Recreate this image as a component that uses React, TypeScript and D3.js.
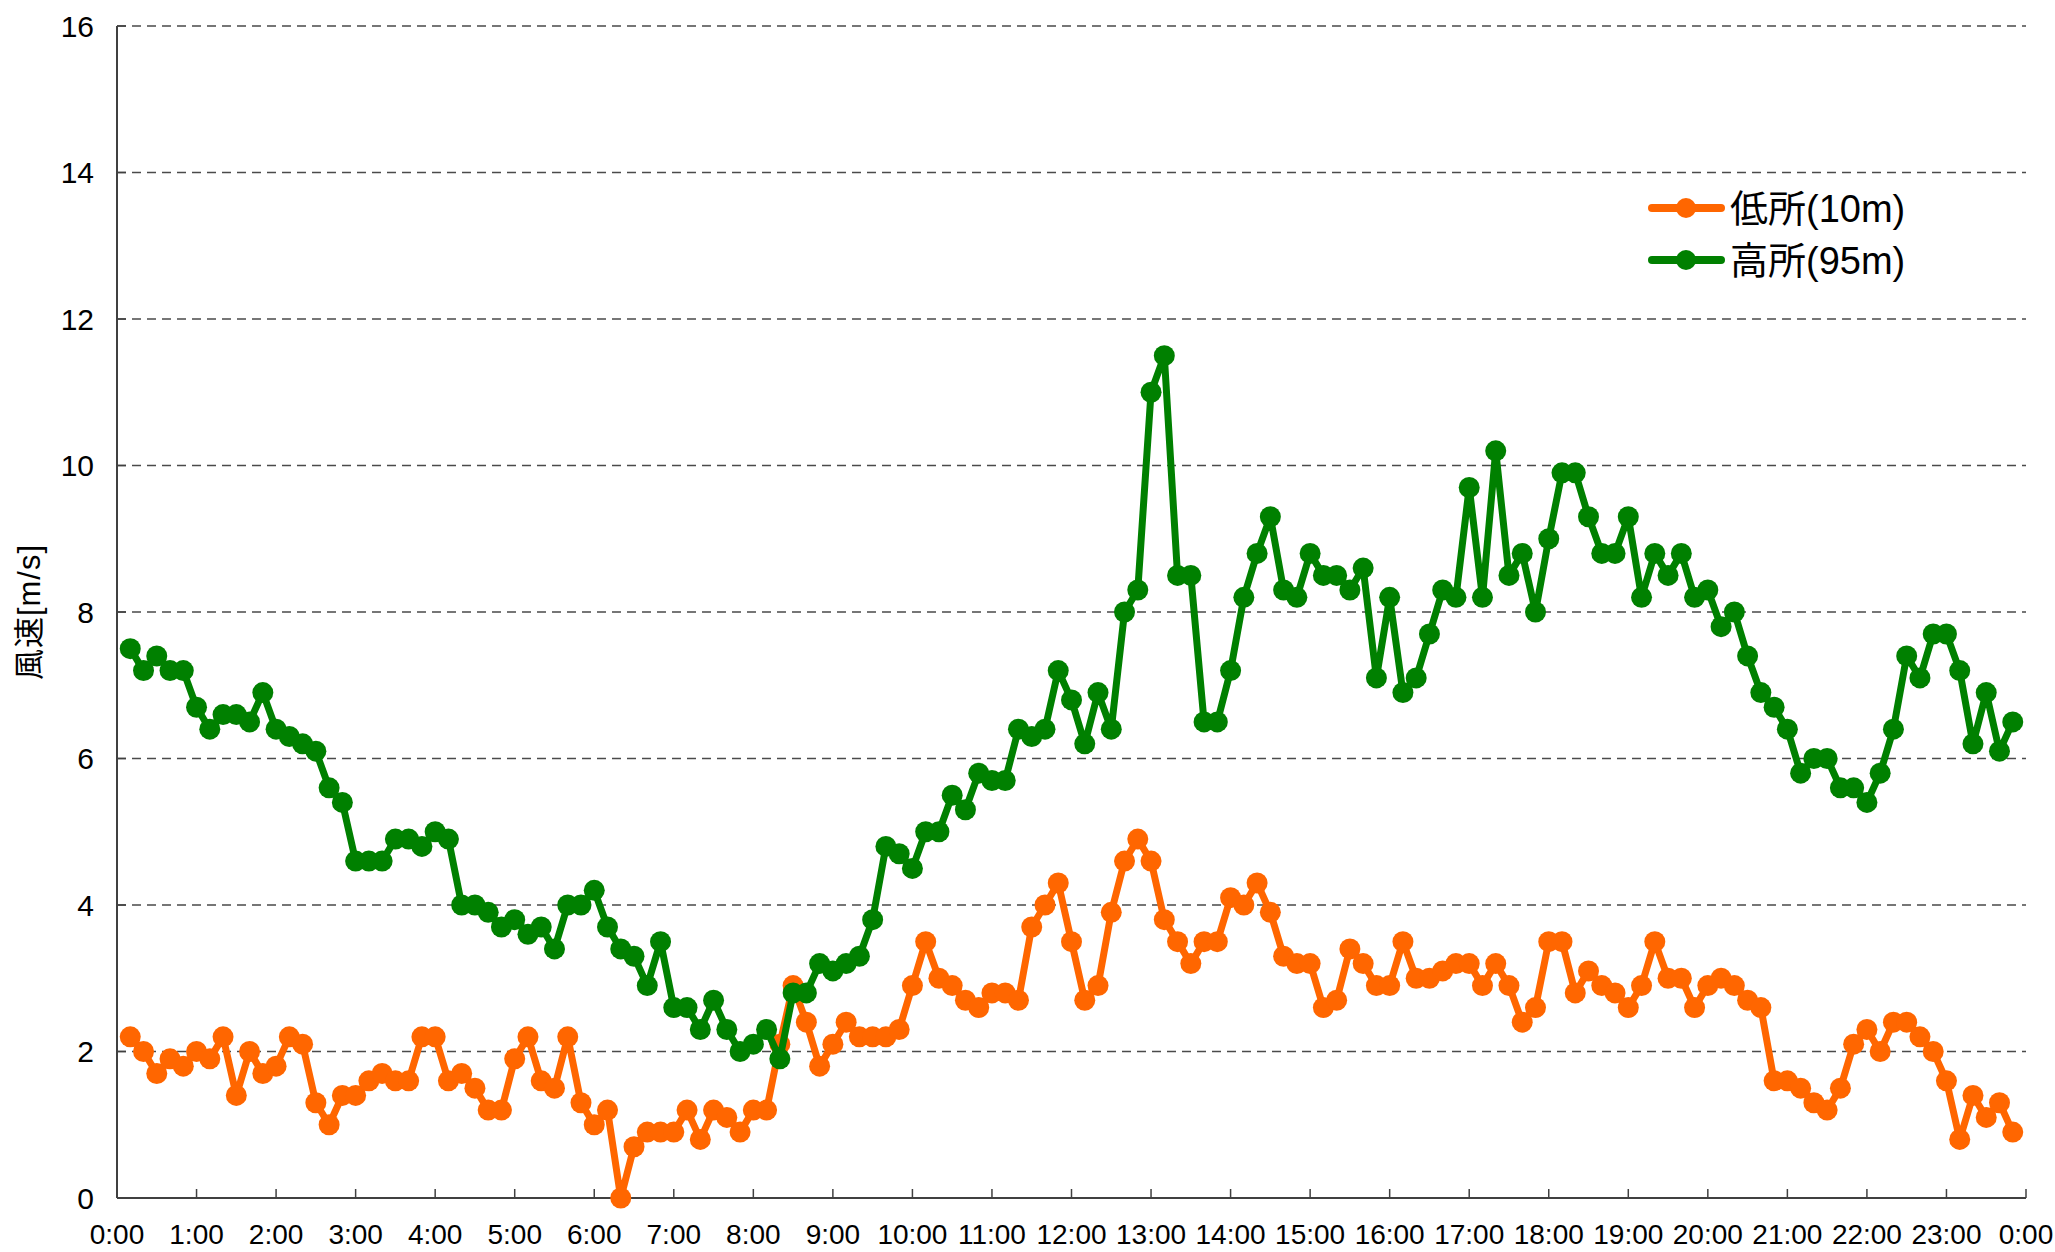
import React, { useEffect } from "react";
import * as d3 from "d3";

const hourLabels = ["0:00","1:00","2:00","3:00","4:00","5:00","6:00","7:00","8:00","9:00","10:00","11:00","12:00","13:00","14:00","15:00","16:00","17:00","18:00","19:00","20:00","21:00","22:00","23:00","0:00"];
const yTicks = [0, 2, 4, 6, 8, 10, 12, 14, 16];

// minutes from 0:00, every 10 minutes from 0:10 to 23:50
const times = d3.range(1, 144).map((i) => i * 10);

const low10m = [
  2.2,2.0,1.7,1.9,1.8,2.0,1.9,2.2,1.4,2.0,1.7,1.8,2.2,2.1,1.3,1.0,1.4,
  1.4,1.6,1.7,1.6,1.6,2.2,2.2,1.6,1.7,1.5,1.2,1.2,1.9,2.2,1.6,1.5,2.2,1.3,
  1.0,1.2,0.0,0.7,0.9,0.9,0.9,1.2,0.8,1.2,1.1,0.9,1.2,1.2,2.1,2.9,2.4,1.8,
  2.1,2.4,2.2,2.2,2.2,2.3,2.9,3.5,3.0,2.9,2.7,2.6,2.8,2.8,2.7,3.7,4.0,4.3,
  3.5,2.7,2.9,3.9,4.6,4.9,4.6,3.8,3.5,3.2,3.5,3.5,4.1,4.0,4.3,3.9,3.3,3.2,
  3.2,2.6,2.7,3.4,3.2,2.9,2.9,3.5,3.0,3.0,3.1,3.2,3.2,2.9,3.2,2.9,2.4,2.6,
  3.5,3.5,2.8,3.1,2.9,2.8,2.6,2.9,3.5,3.0,3.0,2.6,2.9,3.0,2.9,2.7,2.6,1.6,
  1.6,1.5,1.3,1.2,1.5,2.1,2.3,2.0,2.4,2.4,2.2,2.0,1.6,0.8,1.4,1.1,1.3,0.9
];

const high95m = [
  7.5,7.2,7.4,7.2,7.2,6.7,6.4,6.6,6.6,6.5,6.9,6.4,6.3,6.2,6.1,5.6,5.4,
  4.6,4.6,4.6,4.9,4.9,4.8,5.0,4.9,4.0,4.0,3.9,3.7,3.8,3.6,3.7,3.4,4.0,4.0,
  4.2,3.7,3.4,3.3,2.9,3.5,2.6,2.6,2.3,2.7,2.3,2.0,2.1,2.3,1.9,2.8,2.8,3.2,
  3.1,3.2,3.3,3.8,4.8,4.7,4.5,5.0,5.0,5.5,5.3,5.8,5.7,5.7,6.4,6.3,6.4,7.2,
  6.8,6.2,6.9,6.4,8.0,8.3,11.0,11.5,8.5,8.5,6.5,6.5,7.2,8.2,8.8,9.3,8.3,8.2,
  8.8,8.5,8.5,8.3,8.6,7.1,8.2,6.9,7.1,7.7,8.3,8.2,9.7,8.2,10.2,8.5,8.8,8.0,
  9.0,9.9,9.9,9.3,8.8,8.8,9.3,8.2,8.8,8.5,8.8,8.2,8.3,7.8,8.0,7.4,6.9,6.7,
  6.4,5.8,6.0,6.0,5.6,5.6,5.4,5.8,6.4,7.4,7.1,7.7,7.7,7.2,6.2,6.9,6.1,6.5
];

const seriesNames = ["低所(10m)", "高所(95m)"];
const seriesColors = ["#FF6600", "#008000"];
const yTitle = "風速[m/s]";

const W = 2055;
const H = 1252;
const M = { left: 117, right: 2026, top: 26, bottom: 1198 };
const FONT = "'Liberation Sans', Arial, 'Noto Sans CJK JP', sans-serif";

export default function App() {
  useEffect(() => {
    document.body.style.margin = "0";
    document.body.style.overflow = "hidden";
  }, []);

  const x = d3.scaleLinear().domain([0, 1440]).range([M.left, M.right]);
  const y = d3.scaleLinear().domain([0, 16]).range([M.bottom, M.top]);

  const line = d3
    .line<number>()
    .x((_, i) => x(times[i]))
    .y((d) => y(d));

  const series = [low10m, high95m];

  return (
    <svg
      width={W}
      height={H}
      style={{ position: "absolute", left: 0, top: 0, background: "#fff" }}
      fontFamily={FONT}
    >
      <rect x={0} y={0} width={W} height={H} fill="#fff" />
      {/* gridlines */}
      {yTicks.filter((t) => t > 0).map((t) => (
        <line
          key={"g" + t}
          x1={M.left}
          x2={M.right}
          y1={y(t)}
          y2={y(t)}
          stroke="#4a4a4a"
          strokeWidth={1.3}
          strokeDasharray="9 6"
        />
      ))}
      {/* y ticks */}
      {yTicks.map((t) => (
        <g key={"yt" + t}>
          <line x1={M.left} x2={M.left + 9} y1={y(t)} y2={y(t)} stroke="#404040" strokeWidth={1.5} />
          <text x={94} y={y(t)} dy="0.36em" textAnchor="end" fontSize={30} fill="#000">
            {t}
          </text>
        </g>
      ))}
      {/* x ticks */}
      {hourLabels.map((lab, i) => (
        <g key={"xt" + i}>
          <line x1={x(i * 60)} x2={x(i * 60)} y1={M.bottom} y2={M.bottom - 9} stroke="#404040" strokeWidth={1.5} />
          <text x={x(i * 60)} y={1244} textAnchor="middle" fontSize={28} fill="#000">
            {lab}
          </text>
        </g>
      ))}
      {/* axes */}
      <line x1={M.left} x2={M.left} y1={M.top} y2={M.bottom} stroke="#404040" strokeWidth={2} />
      <line x1={M.left} x2={M.right} y1={M.bottom} y2={M.bottom} stroke="#404040" strokeWidth={2} />

      {/* y title */}
      <text
        transform={`translate(40, 612) rotate(-90)`}
        textAnchor="middle"
        fontSize={31}
        letterSpacing={1}
        fill="#000"
      >
        {yTitle}
      </text>

      {/* series */}
      {series.map((vals, si) => (
        <g key={"s" + si}>
          <path
            d={line(vals) || ""}
            fill="none"
            stroke={seriesColors[si]}
            strokeWidth={7}
            strokeLinejoin="round"
            strokeLinecap="round"
          />
          {vals.map((v, i) => (
            <circle key={i} cx={x(times[i])} cy={y(v)} r={10.5} fill={seriesColors[si]} />
          ))}
        </g>
      ))}

      {/* legend */}
      {seriesNames.map((name, si) => {
        const ly = 208 + si * 52;
        return (
          <g key={"lg" + si}>
            <line x1={1652} x2={1721} y1={ly} y2={ly} stroke={seriesColors[si]} strokeWidth={8} strokeLinecap="round" />
            <circle cx={1686} cy={ly} r={10} fill={seriesColors[si]} />
            <text x={1730} y={ly} dy="0.36em" fontSize={38} fill="#000">
              {name}
            </text>
          </g>
        );
      })}
    </svg>
  );
}
